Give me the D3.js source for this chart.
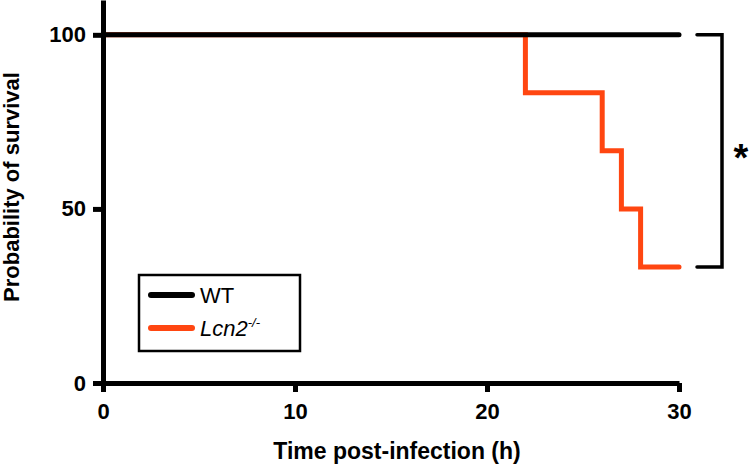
<!DOCTYPE html>
<html>
<head>
<meta charset="utf-8">
<script src="https://cdn.jsdelivr.net/npm/d3@7"></script>
<style>
  body { margin: 0; background: #fff; }
  text { font-family: "Liberation Sans", Arial, Helvetica, sans-serif; }
</style>
</head>
<body>
<div id="chart"></div>
<script>
// survival data (hours, percent)
const wtTimes = [0, 30];
const wtSurv = [100, 100];
const lcnTimes = [0, 22, 26, 27, 28, 30];
const lcnSurv = [100, 83.33, 66.67, 50, 33.33, 33.33];

const xTicks = [0, 10, 20, 30];
const yTicks = [0, 50, 100];
const seriesNames = ["WT", "Lcn2"];
const seriesColors = ["#000000", "#ff4611"];

let w = 750;
let h = 466;
const margin = { left: 103, right: 71, top: 0, bottom: 83 };

let svg = d3.select("#chart").append("svg")
  .attr("width", w)
  .attr("height", h);

const x = d3.scaleLinear().domain([0, 30]).range([margin.left, w - margin.right]);
const y = d3.scaleLinear().domain([0, 110]).range([h - margin.bottom, margin.top]);

const line = d3.line()
  .x(d => x(d[0]))
  .y(d => y(d[1]))
  .curve(d3.curveStepAfter);

// orange under black
const lcnData = lcnTimes.map((t, i) => [t, lcnSurv[i]]);
const wtData = wtTimes.map((t, i) => [t, wtSurv[i]]);

svg.append("path")
  .datum(lcnData)
  .attr("d", line)
  .attr("fill", "none")
  .attr("stroke", seriesColors[1])
  .attr("stroke-width", 5)
  .attr("stroke-linecap", "round");

svg.append("path")
  .datum(wtData)
  .attr("d", line)
  .attr("fill", "none")
  .attr("stroke", seriesColors[0])
  .attr("stroke-width", 5)
  .attr("stroke-linecap", "round");

// axes
let xAxis = svg.append("g")
  .attr("transform", `translate(0,${y(0)})`)
  .call(d3.axisBottom(x).tickValues(xTicks).tickSize(9).tickSizeOuter(0).tickPadding(11));

let yAxis = svg.append("g")
  .attr("transform", `translate(${x(0)},0)`)
  .call(d3.axisLeft(y).tickValues(yTicks).tickSize(10).tickSizeOuter(0).tickPadding(7));

[xAxis, yAxis].forEach(g => {
  g.select(".domain").attr("stroke-width", 5).attr("stroke", "#000");
  g.selectAll(".tick line").attr("stroke-width", 5).attr("stroke", "#000");
  g.selectAll(".tick text")
    .attr("font-size", 22)
    .attr("font-weight", "bold")
    .attr("fill", "#000")
    .style("font-family", "'Liberation Sans', Arial, sans-serif");
});

// axis titles
svg.append("text")
  .attr("x", 397)
  .attr("y", 459)
  .attr("text-anchor", "middle")
  .attr("font-size", 23)
  .attr("font-weight", "bold")
  .text("Time post-infection (h)");

svg.append("text")
  .attr("transform", `translate(19,${187}) rotate(-90)`)
  .attr("text-anchor", "middle")
  .attr("font-size", 22)
  .attr("font-weight", "bold")
  .text("Probability of survival");

// significance bracket
let bx0 = 697, bx1 = 722;
svg.append("path")
  .attr("d", `M${bx0},${y(100)}H${bx1}V${y(33.33)}H${bx0}`)
  .attr("fill", "none")
  .attr("stroke", "#000")
  .attr("stroke-width", 3.5)
  .attr("stroke-linecap", "round");

svg.append("text")
  .attr("x", 741)
  .attr("y", (y(100) + y(33.33)) / 2 + 20)
  .attr("text-anchor", "middle")
  .attr("font-size", 38)
  .attr("font-weight", "bold")
  .text("*");

// legend
let legend = svg.append("g");
legend.append("rect")
  .attr("x", 139)
  .attr("y", 275)
  .attr("width", 161)
  .attr("height", 76)
  .attr("fill", "#fff")
  .attr("stroke", "#000")
  .attr("stroke-width", 2.5);

const legendY = [295, 328];
seriesNames.forEach((name, i) => {
  legend.append("line")
    .attr("x1", 151).attr("x2", 192)
    .attr("y1", legendY[i]).attr("y2", legendY[i])
    .attr("stroke", seriesColors[i])
    .attr("stroke-width", 6)
    .attr("stroke-linecap", "round");
  let t = legend.append("text")
    .attr("x", 200)
    .attr("y", legendY[i] + 8)
    .attr("font-size", 22);
  if (i === 0) {
    t.text(name);
  } else {
    t.append("tspan").attr("font-style", "italic").text(name);
    t.append("tspan").attr("font-style", "italic").attr("font-size", 13).attr("dy", -9).text("-/-");
  }
});
</script>
</body>
</html>
